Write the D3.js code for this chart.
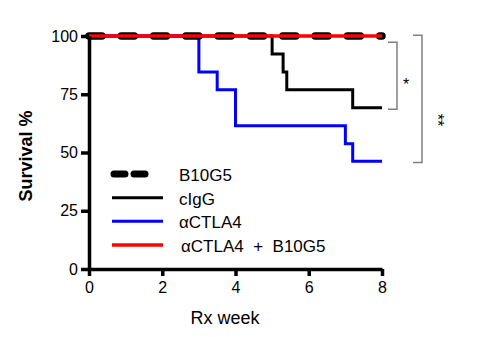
<!DOCTYPE html>
<html>
<head>
<meta charset="utf-8">
<script src="https://cdn.jsdelivr.net/npm/d3@7"></script>
<style>
  body { margin: 0; background: #fff; }
  svg { display: block; font-family: "Liberation Sans", Arial, sans-serif; }
</style>
</head>
<body>
<div id="container"></div>
<script>
// survival steps [week, %]
const b10g5 = [[0, 100], [8, 100]];
const cigg = [[0, 100], [5.0, 92.3], [5.3, 84.6], [5.4, 76.9], [7.2, 69.2], [8, 69.2]];
const ctla4 = [[0, 100], [3.0, 84.6], [3.5, 76.9], [4.0, 61.5], [7.0, 53.8], [7.2, 46.2], [8, 46.2]];
const combo = [[0, 100], [8, 100]];

const legendLabels = ["B10G5", "cIgG", "\u03b1CTLA4", "\u03b1CTLA4  +  B10G5"];
const xTicks = [0, 2, 4, 6, 8];
const yTicks = [0, 25, 50, 75, 100];

// significance brackets (y values in %)
const brackets = [
  {top: 97.3, bottom: 68.6, label: "*"},
  {top: 100.3, bottom: 45.7, label: "**"}
];

const W = 477, H = 337;
const svg = d3.select("#container").append("svg")
  .attr("width", W)
  .attr("height", H);

const x = d3.scaleLinear().domain([0, 8]).range([89, 382]);
const y = d3.scaleLinear().domain([0, 100]).range([269, 36]);

const line = d3.line()
  .x(d => x(d[0]))
  .y(d => y(d[1]))
  .curve(d3.curveStepAfter);

// curves
svg.append("path")
  .datum(cigg)
  .attr("d", line)
  .attr("fill", "none")
  .attr("stroke", "#000")
  .attr("stroke-width", 3);

svg.append("path")
  .datum(ctla4)
  .attr("d", line)
  .attr("fill", "none")
  .attr("stroke", "#0000ff")
  .attr("stroke-width", 3);

svg.append("path")
  .datum(b10g5)
  .attr("d", line)
  .attr("fill", "none")
  .attr("stroke", "#000")
  .attr("stroke-width", 7.5)
  .attr("stroke-linecap", "round")
  .attr("stroke-dasharray", "13 19.3");

svg.append("path")
  .datum(combo)
  .attr("d", line)
  .attr("fill", "none")
  .attr("stroke", "#ff0000")
  .attr("stroke-width", 3.5);

// axes
const yAxis = svg.append("g")
  .attr("transform", `translate(${x(0)},0)`)
  .call(d3.axisLeft(y).tickValues(yTicks).tickSize(8).tickSizeOuter(0).tickPadding(3));

const xAxis = svg.append("g")
  .attr("transform", `translate(0,${y(0)})`)
  .call(d3.axisBottom(x).tickValues(xTicks).tickSize(7).tickSizeOuter(0).tickPadding(6));

[yAxis, xAxis].forEach(ax => {
  ax.select(".domain").attr("stroke-width", 3.5).attr("stroke", "#000");
  ax.selectAll(".tick line").attr("stroke-width", 3.5).attr("stroke", "#000");
  ax.selectAll(".tick text")
    .style("font-family", "'Liberation Sans', Arial, sans-serif")
    .style("font-size", "16px")
    .attr("fill", "#000");
});

// axis titles
svg.append("text")
  .attr("x", 225)
  .attr("y", 324)
  .attr("text-anchor", "middle")
  .style("font-size", "18px")
  .text("Rx week");

svg.append("text")
  .attr("transform", `translate(32,${156}) rotate(-90)`)
  .attr("text-anchor", "middle")
  .style("font-size", "18px")
  .style("font-weight", "bold")
  .text("Survival %");

// brackets
brackets.forEach((b, i) => {
  const bx = i === 0 ? 397 : 422;
  const bw = 9;
  svg.append("path")
    .attr("d", `M${bx - bw},${y(b.top)}H${bx}V${y(b.bottom)}H${bx - bw}`)
    .attr("fill", "none")
    .attr("stroke", "#808080")
    .attr("stroke-width", 1.5);
  if (i === 0) {
    svg.append("text")
      .attr("x", 406)
      .attr("y", 90)
      .attr("text-anchor", "middle")
      .style("font-size", "16px")
      .text(b.label);
  } else {
    svg.append("text")
      .attr("transform", `translate(432,120) rotate(90)`)
      .attr("text-anchor", "middle")
      .style("font-size", "16px")
      .text(b.label);
  }
});

// legend
const legendStyles = [
  {color: "#000", width: 7, dash: "11 9", cap: "round", x1: 114, x2: 152},
  {color: "#000", width: 3, dash: null, cap: "butt", x1: 112, x2: 163},
  {color: "#0000ff", width: 3, dash: null, cap: "butt", x1: 112, x2: 163},
  {color: "#ff0000", width: 3.5, dash: null, cap: "butt", x1: 112, x2: 163}
];
const legendY = d3.scalePoint().domain(legendLabels).range([174, 245]);

legendLabels.forEach((label, i) => {
  const s = legendStyles[i];
  const ly = legendY(label);
  svg.append("line")
    .attr("x1", s.x1).attr("x2", s.x2)
    .attr("y1", ly).attr("y2", ly)
    .attr("stroke", s.color)
    .attr("stroke-width", s.width)
    .attr("stroke-linecap", s.cap)
    .attr("stroke-dasharray", s.dash);
  svg.append("text")
    .attr("x", i === 3 ? 181 : 179)
    .attr("y", ly + 1)
    .attr("dy", "0.35em")
    .style("font-size", "17px")
    .style("white-space", "pre")
    .text(label);
});
</script>
</body>
</html>
